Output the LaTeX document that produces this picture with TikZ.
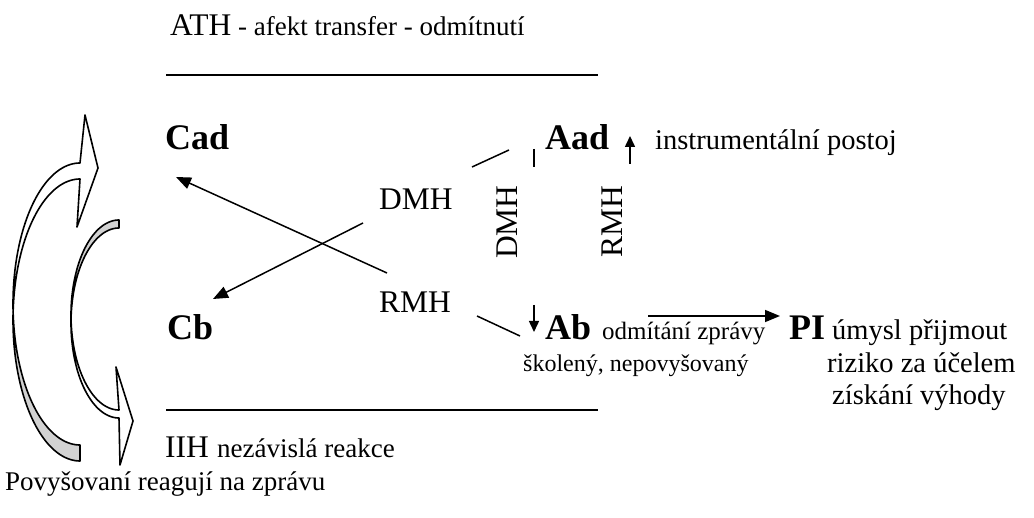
\documentclass[tikz,border=0pt]{standalone}
\usepackage{fontspec}
\setmainfont{Liberation Serif}
\usetikzlibrary{arrows.meta}
\begin{document}
\begin{tikzpicture}[x=1pt,y=-1pt,
 sm/.style={font=\fontsize{27}{31}\selectfont, inner sep=0pt, anchor=base west},
 sa/.style={font=\fontsize{25}{29}\selectfont, inner sep=0pt, anchor=base west},
 sb/.style={font=\fontsize{24}{28}\selectfont, inner sep=0pt, anchor=base west},
 sp/.style={font=\fontsize{28.5}{32}\selectfont, inner sep=0pt, anchor=base west},
 md/.style={font=\fontsize{31.5}{36}\selectfont, inner sep=0pt, anchor=base west},
 bd/.style={font=\fontsize{36}{40}\selectfont\bfseries, inner sep=0pt, anchor=base west},
 vt/.style={font=\fontsize{31.5}{36}\selectfont, inner sep=0pt, rotate=90},
 conn/.style={line width=1.5pt},
 arr/.style={conn, -{Triangle[length=15pt,width=12pt]}},
 sarr/.style={conn, -{Triangle[length=11pt,width=10pt]}},
 band/.style={line width=1.6pt, line join=round},
 rule/.style={line width=1.5pt},
]
\useasboundingbox (0,0) rectangle (1034,518);

% ---- curved block arrows on the left ----
% outer arrow (head at top, tail at bottom)
\filldraw[band, fill=gray!35]
  plot[domain=183.25:90, samples=60] ({80+67*cos(\x)},{320+141*sin(\x)})
  -- plot[domain=90:176.75, samples=60] ({80+67*cos(\x)},{304+141*sin(\x)}) -- cycle;
\filldraw[band, fill=white]
  plot[domain=176.75:270, samples=60] ({80+67*cos(\x)},{304+141*sin(\x)})
  -- (85,115) -- (98,168) -- (77,227) -- (80,179)
  -- plot[domain=270:183.25, samples=60] ({80+67*cos(\x)},{320+141*sin(\x)}) -- cycle;
% inner arrow (tail at top, head at bottom)
\filldraw[band, fill=gray!35]
  plot[domain=270:177.59, samples=60] ({119+48*cos(\x)},{315+95*sin(\x)})
  -- plot[domain=182.41:270, samples=60] ({119+48*cos(\x)},{323+95*sin(\x)}) -- cycle;
\filldraw[band, fill=white]
  plot[domain=177.59:90, samples=60] ({119+48*cos(\x)},{315+95*sin(\x)})
  -- (116,367) -- (133,421) -- (120,465) -- (119,418)
  -- plot[domain=90:182.41, samples=60] ({119+48*cos(\x)},{323+95*sin(\x)}) -- cycle;

% ---- texts ----
\node[sm] (ath) at (170,36) {{\fontsize{31.5}{36}\selectfont ATH} - afekt transfer - odmítnutí};
\node[bd] (cad) at (165,150) {Cad};
\node[bd] (aad) at (545,150) {Aad};
\node[sp] (instr) at (655,150) {instrumentální postoj};
\node[md] (dmh) at (379,210) {DMH};
\node[md] (rmh) at (379,313) {RMH};
\node[vt] (dmhv) at (507,222) {DMH};
\node[vt] (rmhv) at (612,222) {RMH};
\node[bd] (cb) at (167,340) {Cb};
\node[bd] (ab) at (545,340) {Ab};
\node[sa] (odm) at (602,340) {odmítání zprávy};
\node[sb] (skol) at (523,372) {školený, nepovyšovaný};
\node[bd] (pi) at (789,340) {PI};
\node[sp] (umysl) at (832,340) {úmysl přijmout};
\node[sp] (riziko) at (827,373) {riziko za účelem};
\node[sp] (ziskani) at (832,405) {získání výhody};
\node[md] (iih) at (165,457) {IIH};
\node[sm] (nez) at (217,457) {nezávislá reakce};
\node[sm] (pov) at (5,490) {Povyšovaní reagují na zprávu};

% ---- rules ----
\coordinate (t1) at (166,75); \coordinate (t2) at (598,75);
\coordinate (b1) at (166,410); \coordinate (b2) at (598,410);
\draw[rule] (t1) -- (t2);
\draw[rule] (b1) -- (b2);

% ---- connectors ----
\coordinate (dA) at (363,223); \coordinate (dB) at (213,299);
\coordinate (rA) at (387,273); \coordinate (rB) at (176,177);
\draw[arr] (dA) -- (dB);
\draw[arr] (rA) -- (rB);
\coordinate (l1a) at (472,167); \coordinate (l1b) at (509,150);
\draw[conn] (l1a) -- (l1b);
\coordinate (tk1) at (534,149); \coordinate (tk2) at (534,167);
\draw[conn] (tk1) -- (tk2);
\coordinate (ua) at (630,164); \coordinate (ub) at (630,136);
\draw[sarr] (ua) -- (ub);
\coordinate (l2a) at (477,316); \coordinate (l2b) at (520,336);
\draw[conn] (l2a) -- (l2b);
\coordinate (da) at (534,305); \coordinate (db) at (534,332);
\draw[sarr] (da) -- (db);
\coordinate (pa) at (648,316); \coordinate (pb) at (780,316);
\draw[arr] (pa) -- (pb);
\end{tikzpicture}
\end{document}
